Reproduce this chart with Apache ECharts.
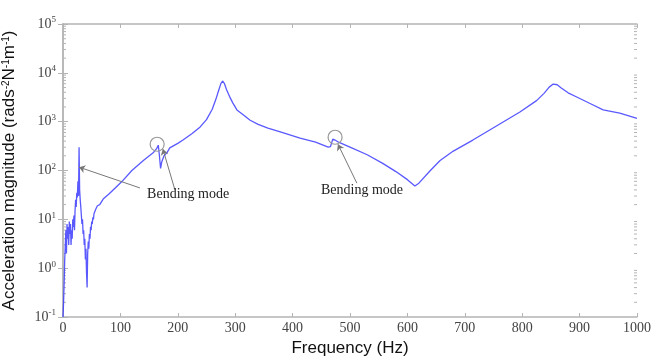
<!DOCTYPE html>
<html>
<head>
<meta charset="utf-8">
<script src="https://cdn.jsdelivr.net/npm/echarts@6/dist/echarts.min.js"></script>
<style>
  html, body { margin: 0; padding: 0; background: #fff; }
  #chart { width: 651px; height: 357px; }
</style>
</head>
<body>
<div id="chart"></div>
<script>
// frequency (Hz) and acceleration magnitude
const freq = [
  0, 1, 2, 3, 4, 5, 6, 7, 8, 9, 10, 11, 12, 13, 14, 15, 16, 17, 18, 19, 20,
  21, 22, 23, 24, 25, 26, 27, 28, 29, 30, 31, 32, 33, 34, 35, 36, 37, 38, 39, 40,
  41, 42, 43, 44, 45, 46, 47, 48, 49, 50, 51, 52, 53, 54, 55, 56, 57, 58, 59, 60,
  64, 70, 80, 91, 103, 120, 140, 157, 163, 166, 168, 170, 172, 176, 181, 186, 200,
  209, 225, 239, 250, 260, 266, 271, 275, 278, 281, 285, 290, 296, 303, 315, 326, 340, 357,
  380, 413, 440, 462, 466, 470, 474, 480, 500, 530, 557, 580, 600, 613, 620, 640,
  657, 680, 714, 750, 796, 825, 838, 847, 854, 861, 868, 880, 895, 920, 941, 970, 1000
];
const magnitude = [
  0.1, 0.2, 0.5, 1.5, 3, 6, 2, 8, 4, 7, 3, 9, 5, 8, 3, 6, 4, 10, 7, 12, 6,
  15, 25, 18, 35, 28, 60, 30, 300, 40, 25, 18, 12, 8, 10, 5, 6, 3, 4, 1.5, 2.5,
  0.8, 0.4, 2, 3.5, 2.5, 5, 4, 7, 6, 9, 8, 11, 10, 13, 12, 15, 14, 17, 16, 19,
  20, 26, 33, 44, 60, 100, 160, 230, 280, 330, 200, 110, 150, 200, 230, 290, 360,
  420, 570, 780, 1100, 1800, 2800, 4300, 6000, 6800, 6100, 4500, 3300, 2400, 1740, 1350, 1070, 880, 740,
  610, 460, 380, 300, 310, 440, 420, 380, 300, 210, 140, 95, 65, 48, 55, 100,
  160, 250, 420, 750, 1580, 2700, 3800, 5100, 5900, 5700, 4900, 3900, 3200, 2300, 1740, 1500, 1170
];

const xTicks = [0, 100, 200, 300, 400, 500, 600, 700, 800, 900, 1000];
const minorTickValues = [];
for (let k = -1; k < 5; k++) {
  for (let m = 2; m <= 9; m++) minorTickValues.push(m * Math.pow(10, k));
}

// annotations (data units)
const circles = [[164, 345], [474, 480]];
const labels = [[218, 33], [521, 40]];
const arrows = [
  [[134, 44], [28, 117]],
  [[195, 40], [174, 275]],
  [[512, 55], [479, 345]]
];

const serif = '"Liberation Serif", "DejaVu Serif", serif';
const sans = '"Liberation Sans", Arial, sans-serif';
const axisGray = '#b4b4b4';

const chart = echarts.init(document.getElementById('chart'));

const yLabel = v => {
  const e = Math.round(Math.log10(v));
  return '{b|10}{s|' + e + '}';
};

chart.setOption({
  animation: false,
  grid: { left: 63, right: 14, top: 24, bottom: 40, show: false, outerBoundsMode: 'none', containLabel: false },
  xAxis: [
    {
      type: 'value', min: 0, max: 1000, interval: 100,
      name: 'Frequency (Hz)', nameLocation: 'middle', nameGap: 23,
      nameTextStyle: { fontFamily: sans, fontSize: 17, color: '#111' },
      axisLine: { show: true, lineStyle: { color: axisGray, width: 1.5 } },
      axisTick: { show: true, inside: true, length: 4, lineStyle: { color: axisGray } },
      axisLabel: { color: '#444', fontFamily: serif, fontSize: 14, margin: 4,
        formatter: v => xTicks.includes(v) ? String(v) : '' },
      splitLine: { show: false }
    },
    {
      type: 'value', min: 0, max: 1000, interval: 100, position: 'top',
      axisLine: { show: true, lineStyle: { color: axisGray, width: 1.5 } },
      axisTick: { show: true, inside: true, length: 4, lineStyle: { color: axisGray } },
      axisLabel: { show: false }, splitLine: { show: false }
    }
  ],
  yAxis: [
    {
      type: 'log', logBase: 10, min: 0.1, max: 100000,
      name: 'Acceleration magnitude (rads{s|-2}N{s|-1}m{s|-1})',
      nameLocation: 'middle', nameGap: 45, nameRotate: 90,
      nameTextStyle: {
        fontFamily: sans, fontSize: 17, color: '#111',
        rich: { s: { fontFamily: sans, fontSize: 10, color: '#111', verticalAlign: 'top', padding: [0, 0, 7, 0] } }
      },
      axisLine: { show: true, lineStyle: { color: axisGray, width: 1.5 } },
      axisTick: { show: true, inside: true, length: 5, lineStyle: { color: axisGray } },
      axisLabel: {
        margin: 7, formatter: yLabel,
        rich: {
          b: { fontFamily: serif, fontSize: 14, color: '#444' },
          s: { fontFamily: serif, fontSize: 9, color: '#444', verticalAlign: 'top', padding: [0, 0, 8, 0] }
        }
      },
      splitLine: { show: false }
    },
    {
      type: 'log', logBase: 10, min: 0.1, max: 100000, position: 'right',
      axisLine: { show: true, lineStyle: { color: axisGray, width: 1.5 } },
      axisTick: { show: true, inside: true, length: 5, lineStyle: { color: axisGray } },
      axisLabel: { show: false }, splitLine: { show: false }
    }
  ],
  series: [
    {
      // log-spaced minor ticks on left and right frames
      type: 'custom', silent: true, z: 1,
      data: minorTickValues.map(v => [0, v]),
      renderItem: (params, api) => {
        const l = api.coord([0, api.value(1)]);
        const r = api.coord([1000, api.value(1)]);
        return {
          type: 'group',
          children: [
            { type: 'line', shape: { x1: l[0], y1: l[1], x2: l[0] + 3, y2: l[1] }, style: { stroke: axisGray, lineWidth: 1 } },
            { type: 'line', shape: { x1: r[0], y1: r[1], x2: r[0] - 3, y2: r[1] }, style: { stroke: axisGray, lineWidth: 1 } }
          ]
        };
      }
    },
    {
      type: 'line', name: 'response',
      data: freq.map((f, i) => [f, magnitude[i]]),
      showSymbol: false, symbol: 'none', smooth: false,
      lineStyle: { color: 'rgba(60, 60, 255, 0.85)', width: 1.3 },
      z: 3,
      markLine: {
        silent: true, symbol: ['none', 'arrow'], symbolSize: 6,
        lineStyle: { color: '#777', type: 'solid', width: 1 },
        itemStyle: { color: '#222' },
        label: { show: false },
        data: arrows.map(a => [{ coord: a[0] }, { coord: a[1] }])
      },
      markPoint: {
        silent: true,
        data: circles.map(c => ({
          coord: c, symbol: 'circle', symbolSize: 14,
          itemStyle: { color: 'rgba(0,0,0,0)', borderColor: '#999', borderWidth: 1.2 },
          label: { show: false }
        })).concat(labels.map(t => ({
          coord: t, symbol: 'circle', symbolSize: 0,
          label: { show: true, formatter: 'Bending mode', position: 'inside',
            fontFamily: serif, fontSize: 14, color: '#222' }
        })))
      }
    }
  ]
});
</script>
</body>
</html>
